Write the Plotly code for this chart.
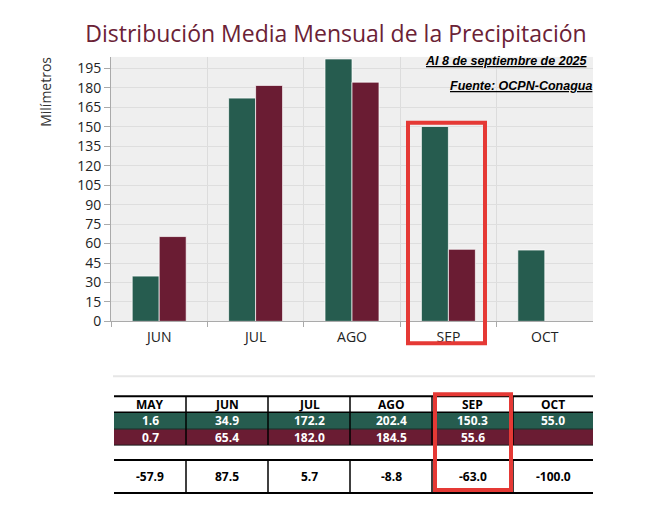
import plotly.graph_objects as go

# ---- data ----
chart_months = ["JUN", "JUL", "AGO", "SEP", "OCT"]
media_mensual = [34.9, 172.2, 202.4, 150.3, 55.0]
anio_2025 = [65.4, 182.0, 184.5, 55.6, None]

table_months = ["MAY", "JUN", "JUL", "AGO", "SEP", "OCT"]
row_media = ["1.6", "34.9", "172.2", "202.4", "150.3", "55.0"]
row_2025 = ["0.7", "65.4", "182.0", "184.5", "55.6", ""]
row_diff = ["-57.9", "87.5", "5.7", "-8.8", "-63.0", "-100.0"]

y_ticks = list(range(0, 196, 15))

GREEN = "#265c4f"
MAROON = "#6a1c33"
RED = "#e53935"
W, H = 645, 509
HE = 501  # effective drawing height used for placing in paper coordinates


def px(x):
    return x / W


def py(y):
    return 1 - y / HE


FONT = "Open Sans"

fig = go.Figure()
fig.add_trace(go.Bar(x=chart_months, y=media_mensual,
                     marker=dict(color=GREEN, line=dict(color="rgba(255,255,255,0.7)", width=1)), name="Media"))
fig.add_trace(go.Bar(x=chart_months, y=anio_2025,
                     marker=dict(color=MAROON, line=dict(color="rgba(255,255,255,0.7)", width=1)), name="2025"))

# ---- table layout (pixel positions) ----
col_edges = [114, 186, 268, 350, 432, 513, 593]
row_y = {"head": (397, 413), "media": (413, 430), "anio": (430, 446), "diff": (461, 494)}

shapes = []
annotations = []

def hline(y, x0=114, x1=593, w=1.5, c="black"):
    shapes.append(dict(type="line", xref="paper", yref="paper", x0=px(x0), x1=px(x1),
                       y0=py(y), y1=py(y), line=dict(color=c, width=w)))

def vline(x, y0, y1, w=1.5, c="black"):
    shapes.append(dict(type="line", xref="paper", yref="paper", x0=px(x), x1=px(x),
                       y0=py(y0), y1=py(y1), line=dict(color=c, width=w)))

def rect(x0, x1, y0, y1, fill):
    shapes.append(dict(type="rect", xref="paper", yref="paper", x0=px(x0), x1=px(x1),
                       y0=py(y0), y1=py(y1), fillcolor=fill, line=dict(width=0), layer="below"))

rect(114, 593, *row_y["media"], GREEN)
rect(114, 593, *row_y["anio"], MAROON)

hline(row_y["head"][0], w=2)
hline(row_y["head"][1], w=1.5)
hline(row_y["media"][1], w=1, c="#1a1a1a")
hline(row_y["anio"][1], w=1, c="#1a1a1a")
hline(row_y["diff"][0], w=2)
hline(row_y["diff"][1], w=2)
for xe in col_edges[1:-1]:
    vline(xe, row_y["head"][0], row_y["anio"][1])
    vline(xe, row_y["diff"][0], row_y["diff"][1])

def row_text(values, key, color):
    y0, y1 = row_y[key]
    for i, v in enumerate(values):
        if v == "":
            continue
        cx = (col_edges[i] + col_edges[i + 1]) / 2
        annotations.append(dict(text=f"<b>{v}</b>", xref="paper", yref="paper", x=px(cx),
                                y=py((y0 + y1) / 2), xanchor="center", yanchor="middle", showarrow=False,
                                font=dict(family=FONT, size=12, color=color)))

row_text(table_months, "head", "black")
row_text(row_media, "media", "white")
row_text(row_2025, "anio", "white")
row_text(row_diff, "diff", "black")

# separator and highlight boxes
hline(377, 113, 595, w=2, c="#e6e6e6")
shapes.append(dict(type="rect", xref="paper", yref="paper", x0=px(408), x1=px(485), y0=py(344), y1=py(123),
                   line=dict(color=RED, width=4)))
shapes.append(dict(type="rect", xref="paper", yref="paper", x0=px(435), x1=px(511), y0=py(491), y1=py(395),
                   line=dict(color=RED, width=4)))

annotations += [
    dict(text="Milímetros", xref="paper", yref="paper", x=px(46), y=py(92), textangle=-90,
         showarrow=False, font=dict(family=FONT, size=14, color="#333"), xanchor="center", yanchor="middle"),
    dict(text="<b><i><u>Al 8 de septiembre de 2025</u></i></b>", xref="paper", yref="paper",
         x=px(590), y=py(61), xanchor="right", yanchor="middle", showarrow=False,
         font=dict(family="Liberation Sans", size=12.5, color="black")),
    dict(text="<b><i><u>Fuente: OCPN-Conagua</u></i></b>", xref="paper", yref="paper",
         x=px(594), y=py(86), xanchor="right", yanchor="middle", showarrow=False,
         font=dict(family="Liberation Sans", size=12.5, color="black")),
]

fig.update_layout(
    width=W, height=H,
    margin=dict(l=0, r=0, t=0, b=0),
    paper_bgcolor="white",
    plot_bgcolor="#efefef",
    showlegend=False,
    barmode="group",
    bargap=0.44,
    bargroupgap=0,
    title=dict(text="Distribución Media Mensual de la Precipitación", x=px(336), y=py(33),
               xanchor="center", yanchor="middle", font=dict(family=FONT, size=23, color="#6b2236")),
    xaxis=dict(domain=[px(111), px(593)], tickson="boundaries", showgrid=True, gridcolor="#dcdcdc",
               ticks="outside", ticklen=5, tickcolor="#aaa", showline=True, linecolor="#aaa",
               ticklabelstandoff=3,
               tickfont=dict(family=FONT, size=14, color="#222")),
    yaxis=dict(domain=[py(322), py(57)], range=[0, 204], tickvals=y_ticks, showgrid=True,
               gridcolor="#dedede", ticks="outside", ticklen=6, tickcolor="#aaa", showline=True,
               linecolor="#aaa", zeroline=False, tickfont=dict(family=FONT, size=14, color="#222")),
    shapes=shapes,
    annotations=annotations,
)

fig.write_html("out.html")
